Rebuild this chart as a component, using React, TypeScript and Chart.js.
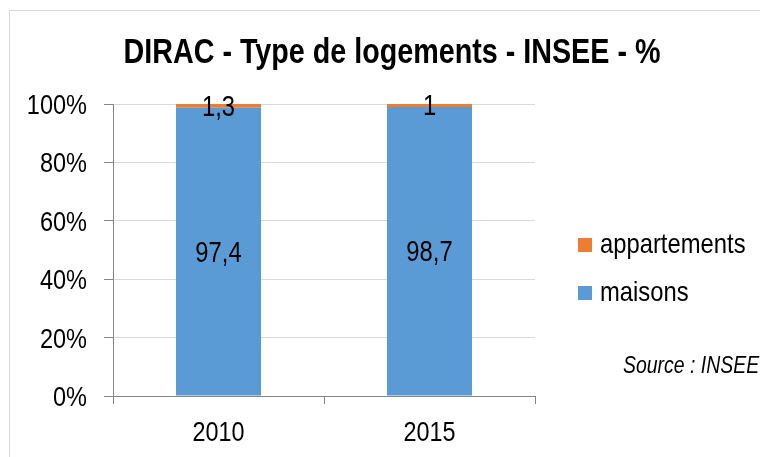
import { useEffect, useRef } from 'react';
import { Chart, registerables } from 'chart.js';
Chart.register(...registerables);

const categories = ['2010', '2015'];
const maisons = [97.4, 98.7];
const appartements = [1.3, 1];
const seriesNames = ['maisons', 'appartements'];
const colors = ['#5B9BD5', '#ED7D31'];
const yTickValues = [0, 20, 40, 60, 80, 100];
const titleText = 'DIRAC - Type de logements - INSEE - %';
const sourceText = 'Source : INSEE';

const FONT = "'Liberation Sans', Arial, sans-serif";

const fmt = (v: number) => String(v).replace('.', ',');

function drawText(c: CanvasRenderingContext2D, text: string, x: number, y: number, font: string, sx: number, align: CanvasTextAlign, baseline: CanvasTextBaseline = 'alphabetic') {
  c.save();
  c.translate(x, y);
  c.scale(sx, 1);
  c.font = font;
  c.fillStyle = '#000';
  c.textAlign = align;
  c.textBaseline = baseline;
  c.fillText(text, 0, 0);
  c.restore();
}

export default function App() {
  const ref = useRef<HTMLCanvasElement>(null);
  useEffect(() => {
    document.body.style.margin = '0';
    const totals = maisons.map((m, i) => m + appartements[i]);
    const raw = [maisons, appartements];
    const pct = raw.map((arr) => arr.map((v, i) => (v / totals[i]) * 100));

    const decor = {
      id: 'decor',
      beforeDraw(chart: any) {
        const c = chart.ctx;
        c.save();
        c.fillStyle = '#fff';
        c.fillRect(0, 0, chart.width, chart.height);
        c.strokeStyle = '#D9D9D9';
        c.lineWidth = 1;
        c.strokeRect(9.5, 10.5, 900, 600);
        c.restore();
      },
      afterDraw(chart: any) {
        const c = chart.ctx;
        // title
        drawText(c, titleText, 392, 63, `bold 35px ${FONT}`, 0.82, 'center');
        // y tick labels
        const ys = chart.scales.y;
        yTickValues.forEach((v) => {
          drawText(c, v + '%', 87, ys.getPixelForValue(v) + 10, `28px ${FONT}`, 0.84, 'right');
        });
        // x tick labels
        const xs = chart.scales.x;
        categories.forEach((cat, i) => {
          drawText(c, cat, xs.getPixelForValue(i), 441, `28px ${FONT}`, 0.835, 'center');
        });
        // data labels
        chart.data.datasets.forEach((ds: any, di: number) => {
          const meta = chart.getDatasetMeta(di);
          meta.data.forEach((el: any, i: number) => {
            const y = (el.y + el.base) / 2;
            drawText(c, fmt(raw[di][i]), el.x, y + 10, `29px ${FONT}`, 0.82, 'center');
          });
        });
        // legend
        const items = [1, 0];
        items.forEach((di, k) => {
          const y0 = 238 + k * 48;
          c.save();
          c.fillStyle = colors[di];
          c.fillRect(578, y0, 14, 14);
          c.restore();
          drawText(c, seriesNames[di], 600, y0 + 15, `28px ${FONT}`, 0.85, 'left');
        });
        // source
        drawText(c, sourceText, 623, 373, `italic 24px ${FONT}`, 0.81, 'left');
      },
    };

    const chart = new Chart(ref.current!, {
      type: 'bar',
      data: {
        labels: categories,
        datasets: seriesNames.map((n, di) => ({
          label: n,
          data: pct[di],
          backgroundColor: colors[di],
          borderWidth: 0,
          categoryPercentage: 1,
          barPercentage: 0.403,
        })),
      },
      options: {
        animation: false,
        responsive: false,
        devicePixelRatio: 1,
        layout: { padding: { top: 104, right: 225, left: 0, bottom: 0 } },
        plugins: { legend: { display: false }, title: { display: false }, tooltip: { enabled: false } },
        scales: {
          x: {
            stacked: true,
            grid: { offset: true, drawOnChartArea: false, drawTicks: true, tickLength: 8, tickColor: '#868686' },
            border: { color: '#868686' },
            ticks: { display: false },
            afterFit: (s: any) => { s.height = 61; },
          },
          y: {
            stacked: true,
            min: 0,
            max: 100,
            ticks: { display: false, stepSize: 20 },
            grid: { color: '#D9D9D9', tickColor: '#868686', tickLength: 9 },
            border: { color: '#868686' },
            afterFit: (s: any) => { s.width = 113; },
          },
        },
      },
      plugins: [decor],
    });
    return () => chart.destroy();
  }, []);
  return (
    <div style={{ width: 760, height: 457 }}>
      <canvas ref={ref} width={760} height={457} style={{ display: 'block' }} />
    </div>
  );
}
